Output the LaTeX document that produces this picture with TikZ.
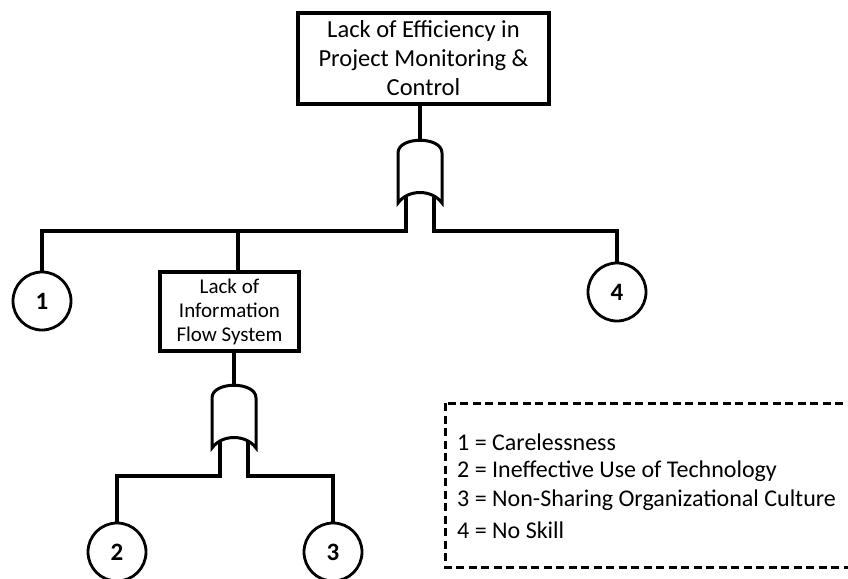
\documentclass[tikz,border=0pt]{standalone}
\usepackage{fontspec}
\setmainfont{Carlito}
\usepackage{tikz}
\usetikzlibrary{positioning}
\tikzstyle{event}=[rectangle, draw=black, line width=3.2pt, align=center, inner sep=2pt, anchor=center]
\tikzstyle{basic}=[circle, draw=black, line width=2.8pt, minimum size=58pt, inner sep=0pt, font=\fontsize{25}{27}\selectfont\bfseries]
\tikzstyle{wire}=[line width=3.4pt]
\tikzstyle{annot}=[anchor=west, inner sep=0pt, font=\fontsize{24}{26}\selectfont]
% gate symbol: dome top, straight sides, hollow bottom
\newcommand{\orgate}[3]
{
  \begin{scope}[shift={(#2,#3)}]
    \draw[wire, line width=3pt] (-22,64) -- (-22,14) .. controls (-22,-3) and (22,-3) .. (22,14)
      -- (22,64) .. controls (12,50) and (-12,50) .. cycle;
    \coordinate (#1-in) at (0,0);
    \coordinate (#1-la) at (-14,58);
    \coordinate (#1-ra) at (14,58);
    \coordinate (#1-lb) at (-14,92);
    \coordinate (#1-rb) at (14,92);
  \end{scope}
}

\begin{document}
\begin{tikzpicture}[x=1pt, y=-1pt]
	\useasboundingbox (0,0) rectangle (848,578);

	\node[event, minimum width=251pt, minimum height=91pt, font=\fontsize{24.5}{29}\selectfont](top) at (423.5,58.5)
		{Lack of Efficiency in\\Project Monitoring \&\\Control};
	\node[event, minimum width=139pt, minimum height=79pt, font=\fontsize{21}{24}\selectfont](info) at (229.5,311.5)
		{Lack of\\Information\\Flow System};

	\orgate{g1}{420}{139}
	\orgate{g2}{234}{384}

	\node[basic](c1) at (42,301){1};
	\node[basic](c4) at (617,292){4};
	\node[basic](c2) at (117,552){2};
	\node[basic](c3) at (333,552){3};

	% upper tree
	\draw[wire] (top.south -| g1-in) -- (g1-in);
	\draw[wire] (g1-la) -- (g1-lb) -| (c1);
	\draw[wire] (g1-ra) -- (g1-rb) -| (c4);
	\coordinate (tap) at (238,231);
	\draw[wire] (tap) -- (tap |- info.north);

	% lower tree
	\draw[wire] (info.south -| g2-in) -- (g2-in);
	\draw[wire] (g2-la) -- (g2-lb) -| (c2);
	\draw[wire] (g2-ra) -- (g2-rb) -| (c3);

	% key
	\draw[line width=3pt, dash pattern=on 8pt off 4.5pt] (445,403) rectangle (880,567);
	\foreach \y/\txt in {442/{1 = Carelessness}, 471/{2 = Ineffective Use of Technology},
		500/{3 = Non-Sharing Organizational Culture}, 530/{4 = No Skill}}
		\node[annot] at (457,\y) {\txt};
\end{tikzpicture}
\end{document}
